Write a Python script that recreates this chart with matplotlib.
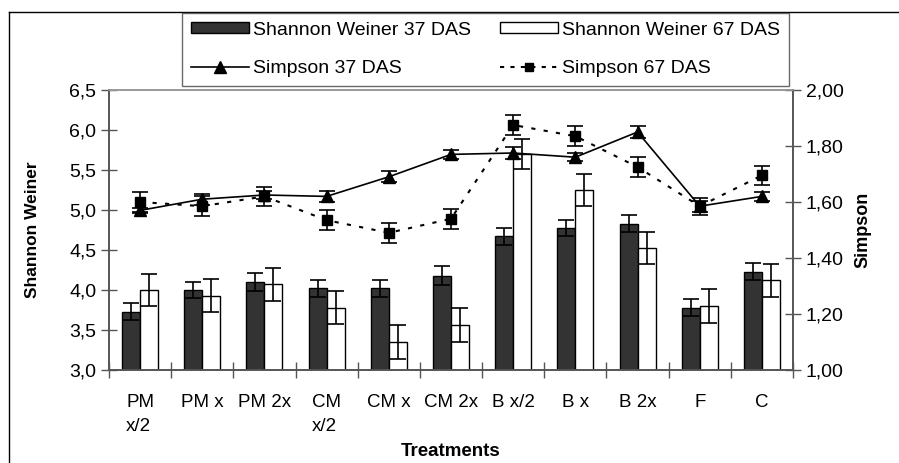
import matplotlib.pyplot as plt
from matplotlib.lines import Line2D
from matplotlib.patches import Patch
from matplotlib.ticker import FuncFormatter
import numpy as np

plt.rcParams['font.family'] = ['Liberation Sans', 'DejaVu Sans']

treatments = ['PM\nx/2', 'PM x', 'PM 2x', 'CM\nx/2', 'CM x', 'CM 2x',
              'B x/2', 'B x', 'B 2x', 'F', 'C']

# Shannon Weiner (left axis)
sw37 = [3.73, 4.00, 4.10, 4.02, 4.02, 4.18, 4.67, 4.77, 4.83, 3.78, 4.23]
sw37_err = [0.11, 0.10, 0.11, 0.11, 0.11, 0.12, 0.11, 0.10, 0.11, 0.11, 0.11]
sw67 = [4.00, 3.93, 4.07, 3.78, 3.35, 3.56, 5.70, 5.25, 4.53, 3.80, 4.12]
sw67_err = [0.20, 0.21, 0.21, 0.21, 0.21, 0.21, 0.19, 0.20, 0.20, 0.21, 0.21]

# Simpson (right axis)
simp37 = [1.57, 1.61, 1.625, 1.62, 1.69, 1.77, 1.775, 1.76, 1.85, 1.585, 1.62]
simp37_err = [0.01, 0.02, 0.015, 0.02, 0.02, 0.015, 0.02, 0.015, 0.02, 0.02, 0.015]
simp67 = [1.60, 1.585, 1.62, 1.535, 1.49, 1.54, 1.875, 1.835, 1.725, 1.585, 1.695]
simp67_err = [0.035, 0.035, 0.035, 0.035, 0.035, 0.035, 0.035, 0.035, 0.035, 0.03, 0.035]

x = np.arange(len(treatments))
w = 0.29

fig = plt.figure(figsize=(8.99, 4.63), dpi=100)
ax = fig.add_axes([0.1212, 0.2009, 0.7609, 0.6047])
ax2 = ax.twinx()

ekw = dict(ecolor='black', elinewidth=1.2, capsize=6, capthick=1.2)
ax.bar(x - w / 2, sw37, w, color='#333333', edgecolor='black', linewidth=1,
       yerr=sw37_err, error_kw=ekw)
ax.bar(x + w / 2, sw67, w, color='white', edgecolor='black', linewidth=1,
       yerr=sw67_err, error_kw=ekw)

ax2.errorbar(x, simp37, yerr=simp37_err, color='black', lw=1.2, marker='^', ms=9,
             capsize=6, capthick=1.2, elinewidth=1.2)
ax2.errorbar(x, simp67, yerr=simp67_err, color='black', lw=1.5, ls=(0, (2, 4)),
             marker='s', ms=7, capsize=6, capthick=1.2, elinewidth=1.2)

ax.set_xlim(-0.5, len(treatments) - 0.5)
ax.set_ylim(3.0, 6.5)
ax.set_yticks(np.arange(3.0, 6.51, 0.5))
ax.yaxis.set_major_formatter(FuncFormatter(lambda v, p: f'{v:.1f}'.replace('.', ',')))
ax2.set_ylim(1.0, 2.0)
ax2.set_yticks(np.arange(1.0, 2.01, 0.2))
ax2.yaxis.set_major_formatter(FuncFormatter(lambda v, p: f'{v:.2f}'.replace('.', ',')))

# category labels between tick marks
ax.set_xticks(np.arange(-0.5, len(treatments), 1.0))
ax.set_xticklabels([])
ax.set_xticks(x, minor=True)
ax.set_xticklabels(treatments, minor=True, fontsize=13.5, multialignment='left',
                   linespacing=1.55)
ax.tick_params(axis='x', which='minor', length=0, pad=17)
ax.tick_params(axis='x', which='major', direction='inout', length=12, width=1, color='#555555')
ax.tick_params(axis='y', direction='inout', length=12, width=1, color='#555555', labelsize=14, pad=3)
ax2.tick_params(axis='y', direction='inout', length=12, width=1, color='#555555', labelsize=14, pad=3)

for a in (ax, ax2):
    for s in a.spines.values():
        s.set_color('#555555')
        s.set_linewidth(1.2)
    a.spines['top'].set_color('#999999')

ax.set_ylabel('Shannon Weiner', fontsize=12.5, fontweight='bold', labelpad=21)
ax2.set_ylabel('Simpson', fontsize=13, fontweight='bold', labelpad=8)
ax.set_xlabel('Treatments', fontsize=13.5, fontweight='bold', labelpad=6)

handles = [Patch(facecolor='#333333', edgecolor='black'),
           Line2D([], [], color='black', lw=1.2, marker='^', ms=8),
           Patch(facecolor='white', edgecolor='black'),
           Line2D([], [], color='black', lw=1.5, ls=(0, (2, 3)), marker='s', ms=6)]
labels = ['Shannon Weiner 37 DAS', 'Simpson 37 DAS',
          'Shannon Weiner 67 DAS', 'Simpson 67 DAS']
leg = fig.legend(handles, labels, loc='upper left', ncol=2,
                 bbox_to_anchor=(0.2024, 0.972), borderaxespad=0, borderpad=0.45,
                 fontsize=14, frameon=True, fancybox=False, handlelength=3.0,
                 handleheight=0.5, handletextpad=0.2, columnspacing=1.5,
                 labelspacing=1.1)
leg.get_frame().set_edgecolor('#444444')
leg.get_frame().set_linewidth(1)

# outer chart border
fig.add_artist(Line2D([0.01, 0.01], [0.0, 0.974], transform=fig.transFigure, color='black', lw=1))
fig.add_artist(Line2D([0.01, 1.0], [0.974, 0.974], transform=fig.transFigure, color='black', lw=1))

fig.savefig('out.png', dpi=100)
